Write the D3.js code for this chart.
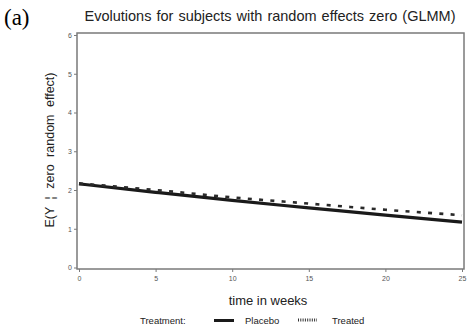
<!DOCTYPE html>
<html>
<head>
<meta charset="utf-8">
<script src="https://cdn.jsdelivr.net/npm/d3@7"></script>
<style>
  body { margin: 0; background: #fff; }
  svg { display: block; }
  text { font-family: "Liberation Sans", Arial, sans-serif; }
</style>
</head>
<body>
<svg id="chart" width="472" height="327"></svg>
<script>
'use strict';

// values
const weeks = [0, 5, 10, 15, 20, 25];
const placebo = [2.16, 1.94, 1.73, 1.54, 1.35, 1.17];
const treated = [2.17, 2.00, 1.81, 1.65, 1.49, 1.35];
const xTicks = [0, 5, 10, 15, 20, 25];
const yTicks = [0, 1, 2, 3, 4, 5, 6];

const svg = d3.select('#chart');

const x = d3.scaleLinear().domain([0, 25]).range([79, 462]);
const y = d3.scaleLinear().domain([0, 6]).range([267.5, 35]);

// panel label + title
svg.append('text')
  .attr('x', 4).attr('y', 25)
  .style('font-family', '"Liberation Serif", "Times New Roman", serif')
  .style('font-size', '23px')
  .text('(a)');

svg.append('text')
  .attr('x', 270).attr('y', 21)
  .attr('text-anchor', 'middle')
  .style('font-size', '14.5px')
  .style('word-spacing', '1px')
  .style('fill', '#222')
  .text('Evolutions for subjects with random effects zero (GLMM)');

// frame
svg.append('rect')
  .attr('x', 77).attr('y', 33)
  .attr('width', 387).attr('height', 236)
  .attr('fill', 'none')
  .attr('stroke', '#7a7a7a')
  .attr('stroke-width', 1.5);

// axes
const yAxis = d3.axisLeft(y).tickValues(yTicks).tickFormat(d3.format('d')).tickSize(3).tickPadding(2);
const xAxis = d3.axisBottom(x).tickValues(xTicks).tickFormat(d3.format('d')).tickSize(3).tickPadding(4);

const yG = svg.append('g').attr('transform', 'translate(77,0)').call(yAxis);
const xG = svg.append('g').attr('transform', 'translate(0,269)').call(xAxis);

[yG, xG].forEach(g => {
  g.select('.domain').remove();
  g.selectAll('line').attr('stroke', '#7a7a7a');
  g.selectAll('text')
    .style('font-family', '"Liberation Sans", Arial, sans-serif')
    .style('font-size', '7px')
    .attr('fill', '#555');
});

// axis titles
svg.append('text')
  .attr('transform', 'translate(54,150) rotate(-90)')
  .attr('text-anchor', 'middle')
  .style('font-size', '12.5px')
  .style('word-spacing', '4px')
  .style('fill', '#222')
  .text('E(Y \u00a6 zero random effect)');

svg.append('text')
  .attr('x', 268).attr('y', 305)
  .attr('text-anchor', 'middle')
  .style('font-size', '13px')
  .style('fill', '#222')
  .text('time in weeks');

// lines
const line = d3.line()
  .x((d, i) => x(weeks[i]))
  .y(d => y(d))
  .curve(d3.curveMonotoneX);

svg.append('path')
  .datum(placebo)
  .attr('d', line)
  .attr('fill', 'none')
  .attr('stroke', '#1a1a1a')
  .attr('stroke-width', 3.2);

svg.append('path')
  .datum(treated)
  .attr('d', line)
  .attr('fill', 'none')
  .attr('stroke', '#2a2a2a')
  .attr('stroke-width', 2.6)
  .attr('stroke-dasharray', '4,7.3');

// legend
const lg = svg.append('g').style('font-size', '9.5px').style('fill', '#222');
lg.append('text').attr('x', 140).attr('y', 324).text('Treatment:');
lg.append('line')
  .attr('x1', 214).attr('x2', 234).attr('y1', 320.5).attr('y2', 320.5)
  .attr('stroke', '#1a1a1a').attr('stroke-width', 3);
lg.append('text').attr('x', 245).attr('y', 324).text('Placebo');
lg.append('line')
  .attr('x1', 298).attr('x2', 317).attr('y1', 320).attr('y2', 320)
  .attr('stroke', '#333').attr('stroke-width', 3)
  .attr('stroke-dasharray', '1,1.3');
lg.append('text').attr('x', 332).attr('y', 324).text('Treated');
</script>
</body>
</html>
